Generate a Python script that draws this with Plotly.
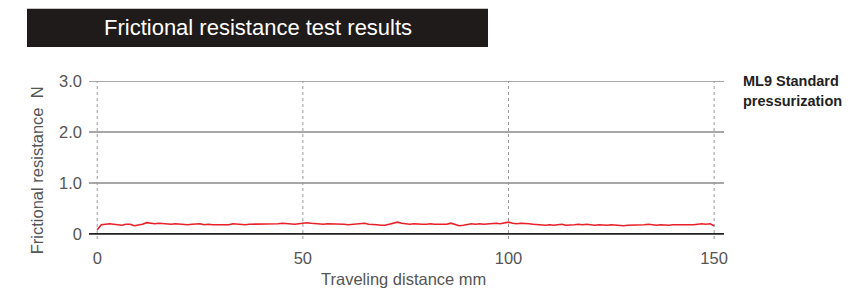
import plotly.graph_objects as go

distance_mm = list(range(0, 151))
resistance_N = [
    0.08, 0.18, 0.19, 0.20, 0.19, 0.18, 0.17, 0.19, 0.19, 0.16,
    0.17, 0.19, 0.22, 0.21, 0.20, 0.21, 0.20, 0.20, 0.19, 0.20,
    0.19, 0.18, 0.18, 0.19, 0.19, 0.20, 0.18, 0.19, 0.18, 0.18,
    0.19, 0.18, 0.18, 0.20, 0.19, 0.19, 0.18, 0.19, 0.19, 0.20,
    0.19, 0.19, 0.20, 0.19, 0.20, 0.21, 0.20, 0.20, 0.19, 0.20,
    0.21, 0.22, 0.21, 0.20, 0.20, 0.19, 0.20, 0.20, 0.19, 0.19,
    0.19, 0.18, 0.19, 0.19, 0.20, 0.21, 0.19, 0.19, 0.18, 0.17,
    0.17, 0.19, 0.21, 0.23, 0.21, 0.20, 0.19, 0.20, 0.19, 0.19,
    0.19, 0.20, 0.19, 0.19, 0.20, 0.19, 0.21, 0.18, 0.16, 0.17,
    0.19, 0.20, 0.19, 0.20, 0.19, 0.20, 0.20, 0.21, 0.20, 0.21,
    0.23, 0.21, 0.20, 0.21, 0.21, 0.20, 0.19, 0.18, 0.17, 0.17,
    0.18, 0.17, 0.18, 0.19, 0.17, 0.17, 0.18, 0.19, 0.18, 0.19,
    0.18, 0.17, 0.18, 0.17, 0.17, 0.18, 0.17, 0.17, 0.16, 0.17,
    0.17, 0.18, 0.17, 0.18, 0.19, 0.18, 0.17, 0.18, 0.17, 0.17,
    0.18, 0.18, 0.17, 0.17, 0.18, 0.18, 0.19, 0.20, 0.19, 0.20,
    0.16,
]

x_ticks = [0, 50, 100, 150]
x_tick_labels = ["0", "50", "100", "150"]
y_ticks = [0, 1, 2, 3]
y_tick_labels = ["0", "1.0", "2.0", "3.0"]

title_text = "Frictional resistance test results"
x_title = "Traveling distance mm"
y_title = "Frictional resistance  N"
series_label = ["ML9 Standard", "pressurization"]

FONT = "Liberation Sans, Arial, Helvetica, sans-serif"
GREY = "#555555"

# page has an 8px body margin: figure coordinates = page coordinates - 8
W, H = 854, 281
PL, PR = 81, 716          # plot area left/right (figure px)
PT, PB = 73, 230.6        # plot area top/bottom (figure px)
PW, PH = PR - PL, PB - PT


def px(xp):  # page x -> paper
    return (xp - 8 - PL) / PW


def py(yp):  # page y -> paper
    return (PB - (yp - 8)) / PH


fig = go.Figure()
fig.add_trace(go.Scatter(
    x=distance_mm, y=resistance_N, mode="lines",
    line=dict(color="#e8202a", width=1.6),
    showlegend=False, hoverinfo="skip",
))

shapes = []
for xv in x_ticks:
    shapes.append(dict(type="line", xref="x", yref="y", x0=xv, x1=xv, y0=-0.1, y1=3.0,
                       line=dict(color="#9a9a9a", width=1, dash="dot"), layer="below"))
for yv in y_ticks:
    shapes.append(dict(type="line", xref="paper", yref="y", x0=0, x1=1, y0=yv, y1=yv,
                       line=dict(color="#222222" if yv == 0 else "#505050",
                                 width=1.6 if yv == 0 else 1.1), layer="below"))
shapes.append(dict(type="rect", xref="paper", yref="paper",
                   x0=px(27), x1=px(488), y0=py(47), y1=py(9),
                   fillcolor="#1f1b1b", line=dict(width=0)))

fig.update_layout(
    width=W, height=H,
    margin=dict(l=PL, r=W - PR, t=PT, b=H - PB),
    paper_bgcolor="white", plot_bgcolor="white",
    font=dict(family=FONT, color=GREY),
    xaxis=dict(range=[-2, 152.4], tickvals=x_ticks, ticktext=x_tick_labels,
               showgrid=False, zeroline=False, showline=False, ticks="",
               tickfont=dict(size=16.5, color=GREY), ticklabelstandoff=7,
               fixedrange=True),
    yaxis=dict(range=[-0.1, 3.0], tickvals=y_ticks, ticktext=y_tick_labels,
               showgrid=False, zeroline=False, showline=False, ticks="",
               tickfont=dict(size=16.5, color=GREY), ticklabelstandoff=6,
               fixedrange=True),
    shapes=shapes,
)

annotations = [
    dict(text=title_text, xref="paper", yref="paper",
         x=px(258), y=py(28), xanchor="center", yanchor="middle",
         showarrow=False, font=dict(family=FONT, size=22, color="white")),
    dict(text=y_title, xref="paper", yref="paper", textangle=-90,
         x=px(37), y=py(170), xanchor="center", yanchor="middle",
         showarrow=False, font=dict(family=FONT, size=16.5, color=GREY)),
    dict(text=x_title, xref="paper", yref="paper",
         x=px(403), y=py(278), xanchor="center", yanchor="middle",
         showarrow=False, font=dict(family=FONT, size=16.5, color=GREY)),
]
for i, line in enumerate(series_label):
    annotations.append(dict(
        text="<b>" + line + "</b>", xref="paper", yref="paper",
        x=px(741), y=py(81 + 20 * i),
        xanchor="left", yanchor="middle", showarrow=False,
        font=dict(family=FONT, size=14.5, color="#222222")))
fig.update_layout(annotations=annotations)

fig.write_html("out.html")
